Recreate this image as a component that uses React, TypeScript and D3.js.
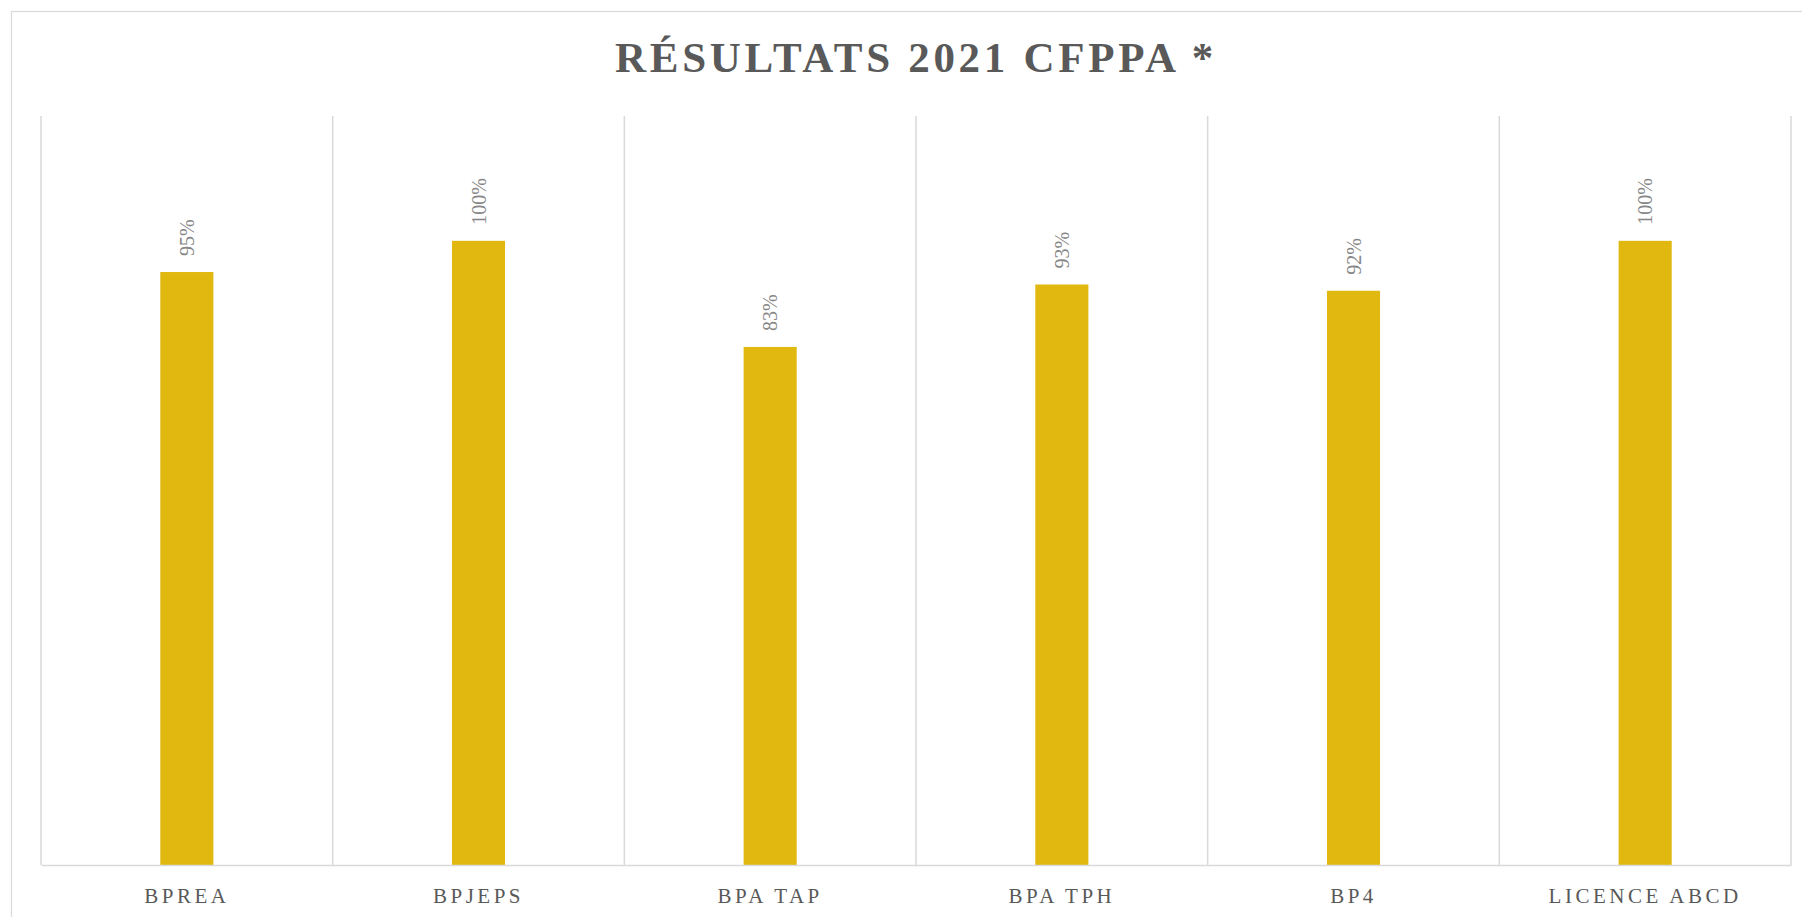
import React, { useEffect, useRef } from "react";
import * as d3 from "d3";

const categories = ["BPREA", "BPJEPS", "BPA TAP", "BPA TPH", "BP4", "LICENCE ABCD"];
const results = [0.95, 1.0, 0.83, 0.93, 0.92, 1.0];
const title = "RÉSULTATS 2021 CFPPA *";

const App = () => {
  const ref = useRef<SVGSVGElement>(null);

  useEffect(() => {
    const width = 1802;
    const height = 917;
    const marginTop = 116;
    const marginLeft = 41;
    const plotRight = 1791;
    const baseline = 865;
    const font = "'Liberation Serif', 'DejaVu Serif', serif";

    const svg = d3.select(ref.current);
    svg.selectAll("*").remove();

    // chart border (runs past the window on right and bottom)
    svg
      .append("rect")
      .attr("x", 11.5)
      .attr("y", 11.5)
      .attr("width", width + 20)
      .attr("height", height + 20)
      .attr("fill", "white")
      .attr("stroke", "#d9d9d9")
      .attr("stroke-width", 1.2);

    const x = d3
      .scaleBand<string>()
      .domain(categories)
      .range([marginLeft, plotRight])
      .paddingInner(0)
      .paddingOuter(0);

    const y = d3.scaleLinear().domain([0, 1.2]).range([baseline, marginTop]);

    // vertical gridlines at category boundaries
    const bounds = categories.map((c) => x(c)!).concat([plotRight]);
    svg
      .append("g")
      .selectAll("line")
      .data(bounds)
      .join("line")
      .attr("x1", (d) => d)
      .attr("x2", (d) => d)
      .attr("y1", marginTop)
      .attr("y2", baseline)
      .attr("stroke", "#d9d9d9")
      .attr("stroke-width", 1.5);

    // bars
    const barW = x.bandwidth() * 0.182;
    svg
      .append("g")
      .selectAll("rect")
      .data(results)
      .join("rect")
      .attr("x", (_, i) => x(categories[i])! + x.bandwidth() / 2 - barW / 2)
      .attr("y", (d) => y(d))
      .attr("width", barW)
      .attr("height", (d) => baseline - y(d))
      .attr("fill", "#e1b80f");

    // baseline + category labels
    svg
      .append("g")
      .attr("transform", `translate(0,${baseline})`)
      .call(d3.axisBottom(x).tickSize(0).tickPadding(23))
      .call((g) => g.select(".domain").attr("stroke", "#d9d9d9").attr("stroke-width", 1.5))
      .call((g) =>
        g
          .selectAll(".tick text")
          .attr("font-family", font)
          .attr("font-size", 21)
          .attr("letter-spacing", "3.5px")
          .attr("fill", "#595959")
      );

    // value labels, rotated
    svg
      .append("g")
      .selectAll("text")
      .data(results)
      .join("text")
      .attr(
        "transform",
        (d, i) =>
          `translate(${x(categories[i])! + x.bandwidth() / 2 + 7},${y(d) - 16}) rotate(-90)`
      )
      .attr("text-anchor", "start")
      .attr("font-family", font)
      .attr("font-size", 20)
      .attr("fill", "#868686")
      .text((d) => d3.format(".0%")(d));

    // title
    svg
      .append("text")
      .attr("x", 916)
      .attr("y", 72)
      .attr("text-anchor", "middle")
      .attr("font-family", font)
      .attr("font-size", 43)
      .attr("font-weight", "bold")
      .attr("letter-spacing", "3.7px")
      .attr("fill", "#595959")
      .text(title);
  }, []);

  return (
    <svg
      ref={ref}
      width={1802}
      height={917}
      style={{ position: "absolute", left: 0, top: 0, display: "block" }}
    ></svg>
  );
};

export default App;
